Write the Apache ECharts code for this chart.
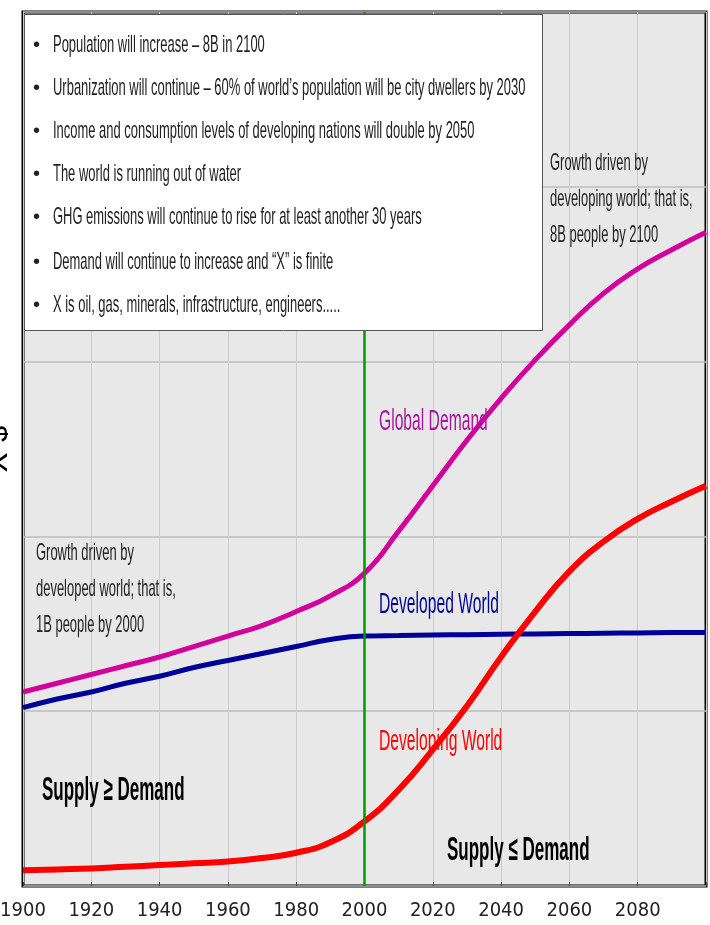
<!DOCTYPE html>
<html>
<head>
<meta charset="utf-8">
<title>Supply and Demand of X</title>
<script src="https://cdn.jsdelivr.net/npm/echarts@6/dist/echarts.min.js"></script>
<style>
	html, body { margin: 0; padding: 0; background: #fff; }
	#demand-echarts { width: 710px; height: 925px; }
</style>
</head>
<body>
<div id="demand-echarts"></div>
<script>
var years = [1900, 1910, 1920, 1930, 1940, 1950, 1960, 1970, 1980, 1990, 2000,
	2010, 2020, 2030, 2040, 2050, 2060, 2070, 2080, 2090, 2100];
var globalDemand = [1.11, 1.16, 1.21, 1.26, 1.31, 1.37, 1.43, 1.49, 1.57, 1.66, 1.79,
	2.03, 2.29, 2.55, 2.79, 3.01, 3.21, 3.39, 3.53, 3.64, 3.74];
var developedWorld = [1.02, 1.07, 1.11, 1.16, 1.20, 1.25, 1.29, 1.33, 1.37, 1.41, 1.43,
	1.433, 1.436, 1.438, 1.44, 1.442, 1.444, 1.446, 1.448, 1.45, 1.45];
var developingWorld = [0.09, 0.095, 0.10, 0.11, 0.12, 0.13, 0.14, 0.16, 0.19, 0.25, 0.37,
	0.55, 0.78, 1.03, 1.31, 1.57, 1.80, 1.97, 2.10, 2.20, 2.29];
var xTicks = [1900, 1920, 1940, 1960, 1980, 2000, 2020, 2040, 2060, 2080];
var bullets = [
	'Population will increase \u2013 8B in 2100',
	'Urbanization will continue \u2013 60% of world\u2019s population will be city dwellers by 2030',
	'Income and consumption levels of developing nations will double by 2050',
	'The world is running out of water',
	'GHG emissions will continue to rise for at least another 30 years',
	'Demand will continue to increase and \u201cX\u201d is finite',
	'X is oil, gas, minerals, infrastructure, engineers.....'
];
var developedNote = ['Growth driven by', 'developed world; that is,', '1B people by 2000'];
var developingNote = ['Growth driven by', 'developing world; that is,', '8B people by 2100'];

(function() {
	'use strict';

	var chart = echarts.init(document.getElementById('demand-echarts'));

	function pairs(vals) {
		return years.map(function(y, i) { return [y, vals[i]]; });
	}

	// squeezed text, the picture is narrow
	function txt(x, y, s, color, size, weight, sx) {
		return {
			type: 'text', x: x, y: y, z: 110, scaleX: sx || 0.54,
			style: {
				text: s, fill: color || '#222', fontSize: size || 24,
				fontWeight: weight || 'normal', fontFamily: 'Liberation Sans, Arial, sans-serif',
				verticalAlign: 'middle'
			}
		};
	}

	var graphics = [{
		type: 'rect', z: 100,
		shape: { x: 24.5, y: 14.5, width: 518, height: 316 },
		style: { fill: '#fff', stroke: '#555', lineWidth: 1 }
	}];
	var rowY = [45, 88, 131, 174, 217, 262, 305];
	bullets.forEach(function(b, i) {
		graphics.push(txt(33, rowY[i], '\u2022', '#222', 20, 'normal', 1));
		graphics.push(txt(53, rowY[i], b));
	});
	developingNote.forEach(function(s, i) {
		graphics.push(txt(550, 163 + i * 36, s));
	});
	developedNote.forEach(function(s, i) {
		graphics.push(txt(36, 553 + i * 36, s));
	});
	graphics.push(txt(379, 422, 'Global Demand', '#a8149e', 29));
	graphics.push(txt(379, 605, 'Developed World', '#000099', 29));
	graphics.push(txt(379, 742, 'Developing World', '#ff0000', 29));
	graphics.push(txt(42, 791, 'Supply \u2265 Demand', '#000', 34, 'bold', 0.5));
	graphics.push(txt(447, 851, 'Supply \u2264 Demand', '#000', 34, 'bold', 0.5));

	var option = {
		animation: false,
		grid: {
			left: 23, right: 4, top: 12, bottom: 39,
			outerBoundsMode: 'none', containLabel: false,
			show: true, backgroundColor: '#e8e8e8',
			borderColor: '#000', borderWidth: 3
		},
		xAxis: {
			type: 'value', min: 1900, max: 2100, interval: 20,
			axisLine: { show: false },
			axisTick: { show: true, inside: true, length: 4, lineStyle: { color: '#444' } },
			splitLine: { show: true, lineStyle: { color: '#cccccc', width: 1 } },
			axisLabel: {
				margin: 15, fontSize: 20, color: '#222',
				fontFamily: '"DejaVu Sans Condensed", "Liberation Sans", sans-serif',
				formatter: function(v) { return xTicks.indexOf(v) >= 0 ? String(v) : ''; }
			}
		},
		yAxis: {
			type: 'value', min: 0, max: 5, interval: 1,
			name: '$ X', nameLocation: 'middle', nameGap: 13, nameRotate: -90,
			nameTextStyle: { fontSize: 32, color: '#000', fontFamily: 'Liberation Sans, sans-serif' },
			axisLine: { show: false },
			axisTick: { show: false },
			axisLabel: { show: false },
			splitLine: { show: true, lineStyle: { color: '#bdbdbd', width: 1.5 } }
		},
		series: [{
			name: 'Developed World', type: 'line', smooth: 0.5, symbol: 'none',
			data: pairs(developedWorld),
			lineStyle: { color: '#000099', width: 5 },
			markLine: {
				silent: true, symbol: 'none', label: { show: false },
				lineStyle: { color: '#009900', width: 2.5, type: 'solid' },
				data: [{ xAxis: 2000 }]
			}
		}, {
			name: 'Global Demand', type: 'line', smooth: 0.5, symbol: 'none',
			data: pairs(globalDemand),
			lineStyle: { color: '#d4009c', width: 5 }
		}, {
			name: 'Developing World', type: 'line', smooth: 0.5, symbol: 'none',
			data: pairs(developingWorld),
			lineStyle: { color: '#ff0000', width: 6 }
		}],
		graphic: graphics
	};
	chart.setOption(option);
})();
</script>
</body>
</html>
